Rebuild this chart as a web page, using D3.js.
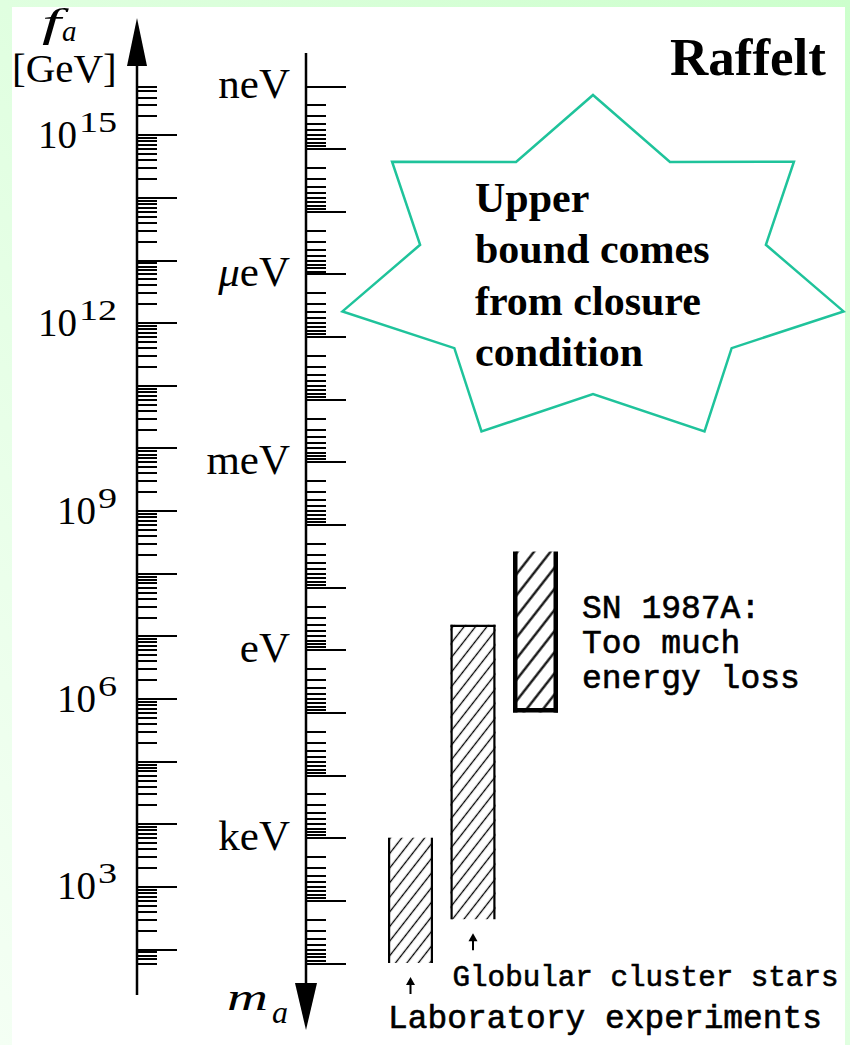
<!DOCTYPE html>
<html>
<head>
<meta charset="utf-8">
<script src="https://cdn.jsdelivr.net/npm/d3@7"></script>
<style>
html, body { margin: 0; padding: 0; background: #fff; }
svg { display: block; }
</style>
</head>
<body>
<div id="chart"></div>
<script>
// ---- data ----
const massDomain = [1e-9, 1e5];                 // m_a in eV, top -> bottom
const massDecadeLabels = [1e-9, 1e-6, 1e-3, 1, 1e3];
const massPrefixes = ['n', 'μ', 'm', '', 'k'];
const FA_TIMES_MA = 6e6;                        // f_a [GeV] * m_a [eV]
const faExponents = [15, 12, 9, 6, 3];

const boundNames = ['Laboratory experiments', 'Globular cluster stars', 'SN 1987A'];
const boundLow = [1e3, 0.4, 0.027];             // eV
const boundHigh = [1e5, 2e4, 10];               // eV
const snLines = ['SN 1987A:', 'Too much', 'energy loss'];
const starLines = ['Upper', 'bound comes', 'from closure', 'condition'];

// ---- layout ----
const WIDTH = 850, HEIGHT = 1045;
const AXIS_TOP = 86, AXIS_BOTTOM = 963;
const FA_X = 137, MA_X = 306;
const MINOR = 20, MAJOR = 40;
const SERIF = '"Liberation Serif", "Times New Roman", serif';
const MONO = '"Liberation Mono", "Courier New", monospace';

const svg = d3.select('#chart').append('svg')
	.attr('width', WIDTH)
	.attr('height', HEIGHT);
const defs = svg.append('defs');

// background: green frame + white sheet
const grad = defs.append('linearGradient').attr('id', 'bg')
	.attr('x1', 1).attr('y1', 0).attr('x2', 0).attr('y2', 1);
grad.append('stop').attr('offset', 0).attr('stop-color', '#ccffcc');
grad.append('stop').attr('offset', 1).attr('stop-color', '#f4fff4');
svg.append('rect').attr('width', WIDTH).attr('height', HEIGHT).attr('fill', 'url(#bg)');
svg.append('rect').attr('x', 12).attr('y', 7).attr('width', 833).attr('height', HEIGHT - 7).attr('fill', '#fff');

// scales: one shared log axis, f_a derived from m_a
const y = d3.scaleLog().domain(massDomain).range([AXIS_TOP, AXIS_BOTTOM]);
const yF = d3.scaleLog().domain(massDomain.map(m => FA_TIMES_MA / m)).range([AXIS_TOP, AXIS_BOTTOM]);

const isDecade = v => Math.abs(Math.log10(v) - Math.round(Math.log10(v))) < 1e-6;

function drawLogAxis(scale, x) {
	const g = svg.append('g')
		.attr('transform', `translate(${x},0)`)
		.call(d3.axisRight(scale).tickValues(scale.ticks(40)).tickSize(MINOR).tickSizeOuter(0).tickFormat(''));
	g.select('.domain').remove();
	g.selectAll('.tick line')
		.attr('stroke', '#000')
		.attr('stroke-width', 2)
		.attr('shape-rendering', 'crispEdges')
		.attr('x2', d => isDecade(d) ? MAJOR : MINOR);
	return g;
}

drawLogAxis(yF, FA_X);
drawLogAxis(y, MA_X);

// axis lines with arrows
svg.append('line').attr('x1', FA_X).attr('x2', FA_X).attr('y1', 60).attr('y2', 995)
	.attr('stroke', '#000').attr('stroke-width', 2.5);
svg.append('path').attr('d', `M${FA_X},18 L${FA_X - 10},66 L${FA_X + 10},66 Z`).attr('fill', '#000');
svg.append('line').attr('x1', MA_X).attr('x2', MA_X).attr('y1', 53).attr('y2', 990)
	.attr('stroke', '#000').attr('stroke-width', 2.5);
svg.append('path').attr('d', `M${MA_X - 11},983 L${MA_X + 11},983 L${MA_X},1030 Z`).attr('fill', '#000');

// f_a decade labels (10^n, right aligned); superscripts drawn a little wide as in TeX
const faLab = svg.append('g').attr('font-family', SERIF);
faExponents.forEach(e => {
	const ty = yF(Math.pow(10, e));
	const expW = String(e).length * 19;
	faLab.append('text')
		.attr('transform', `translate(117,${ty - 3}) scale(1.27,1)`)
		.attr('text-anchor', 'end')
		.attr('font-size', 30)
		.text(e);
	faLab.append('text')
		.attr('x', 117 - expW - 2).attr('y', ty + 13)
		.attr('text-anchor', 'end')
		.attr('font-size', 39)
		.text('10');
});

// m_a decade labels
const maLab = svg.append('g').attr('font-family', SERIF).attr('text-anchor', 'end').attr('font-size', 43);
massDecadeLabels.forEach((m, i) => {
	const t = maLab.append('text').attr('x', 290).attr('y', y(m) + 12);
	if (massPrefixes[i] === 'μ') {
		t.append('tspan').attr('font-style', 'italic').text('μ');
	} else {
		t.append('tspan').text(massPrefixes[i]);
	}
	t.append('tspan').text('eV');
});

// axis titles
svg.append('text').attr('x', 42).attr('y', 36).attr('font-family', SERIF).attr('font-style', 'italic')
	.attr('font-size', 40).attr('textLength', 19).attr('lengthAdjust', 'spacingAndGlyphs').text('f');
svg.append('text').attr('x', 62).attr('y', 41).attr('font-family', SERIF).attr('font-style', 'italic')
	.attr('font-size', 29).text('a');
svg.append('text').attr('x', 12).attr('y', 82).attr('font-family', SERIF).attr('font-size', 41).text('[GeV]');
svg.append('text').attr('x', 227).attr('y', 1010).attr('font-family', SERIF).attr('font-style', 'italic')
	.attr('font-size', 38).attr('textLength', 41).attr('lengthAdjust', 'spacingAndGlyphs').text('m');
svg.append('text').attr('x', 272).attr('y', 1023).attr('font-family', SERIF).attr('font-style', 'italic')
	.attr('font-size', 32).text('a');

// hatched exclusion bars
function hatch(id, gap, width) {
	defs.append('pattern').attr('id', id)
		.attr('patternUnits', 'userSpaceOnUse')
		.attr('width', gap).attr('height', gap)
		.attr('patternTransform', 'rotate(38)')
		.append('line')
		.attr('x1', gap / 2).attr('x2', gap / 2).attr('y1', -1).attr('y2', gap + 1)
		.attr('stroke', '#000').attr('stroke-width', width);
}
hatch('hatchThin', 9, 1.3);
hatch('hatchBold', 13, 2.2);

const barStyle = [
	{ sides: ['left', 'right'], stroke: 2.2, fill: 'url(#hatchThin)' },
	{ sides: ['top', 'left', 'right'], stroke: 2.2, fill: 'url(#hatchThin)' },
	{ sides: ['left', 'right', 'bottom'], stroke: 4.5, fill: 'url(#hatchBold)' }
];

const xb = d3.scaleBand().domain(boundNames).range([388, 558]).paddingInner(0.28);

boundNames.forEach((name, i) => {
	const x0 = xb(name), x1 = x0 + xb.bandwidth();
	const y0 = y(boundLow[i]), y1 = y(boundHigh[i]);
	const st = barStyle[i], h = st.stroke / 2;
	svg.append('rect').attr('x', x0).attr('y', y0).attr('width', x1 - x0).attr('height', y1 - y0)
		.attr('fill', st.fill);
	const seg = {
		left: [[x0 + h, y0], [x0 + h, y1]],
		right: [[x1 - h, y0], [x1 - h, y1]],
		top: [[x0, y0 + h], [x1, y0 + h]],
		bottom: [[x0, y1 - h], [x1, y1 - h]]
	};
	st.sides.forEach(s => {
		svg.append('line')
			.attr('x1', seg[s][0][0]).attr('y1', seg[s][0][1])
			.attr('x2', seg[s][1][0]).attr('y2', seg[s][1][1])
			.attr('stroke', '#000').attr('stroke-width', st.stroke);
	});
});

// small arrows under the two lower bars
[0, 1].forEach(i => {
	const cx = xb(boundNames[i]) + xb.bandwidth() / 2;
	const top = y(boundHigh[i]) + 14;
	svg.append('line').attr('x1', cx).attr('x2', cx).attr('y1', top + 4).attr('y2', top + 17)
		.attr('stroke', '#000').attr('stroke-width', 2);
	svg.append('path').attr('d', `M${cx},${top} L${cx - 4.5},${top + 8} L${cx + 4.5},${top + 8} Z`).attr('fill', '#000');
});

// bar labels
const mono = svg.append('g').attr('font-family', MONO).attr('font-size', 33)
	.attr('fill', '#000').attr('stroke', '#000').attr('stroke-width', 0.6);
const snX = xb(boundNames[2]) + xb.bandwidth() + 24;
snLines.forEach((s, i) => {
	mono.append('text').attr('x', snX).attr('y', 618 + i * 35).attr('xml:space', 'preserve').text(s);
});
mono.append('text').attr('x', xb(boundNames[1]) + 2).attr('y', 986)
	.attr('font-size', 30)
	.attr('textLength', 386).attr('lengthAdjust', 'spacingAndGlyphs').text(boundNames[1]);
mono.append('text').attr('x', xb(boundNames[0])).attr('y', 1028)
	.attr('textLength', 434).attr('lengthAdjust', 'spacingAndGlyphs').text(boundNames[0]);

// seven-pointed star callout
const STAR = { cx: 593, cy: 272, rx: 257, ry: 177, inner: 0.69, n: 7 };
const starPts = d3.range(STAR.n * 2).map(k => {
	const a = -Math.PI / 2 + k * Math.PI / STAR.n;
	const f = k % 2 ? STAR.inner : 1;
	return [STAR.cx + STAR.rx * f * Math.cos(a), STAR.cy + STAR.ry * f * Math.sin(a)];
});
svg.append('polygon')
	.attr('points', starPts.map(p => p.join(',')).join(' '))
	.attr('fill', '#fff')
	.attr('stroke', '#1fc39b')
	.attr('stroke-width', 2.5)
	.attr('stroke-linejoin', 'miter');

const starG = svg.append('g').attr('font-family', SERIF).attr('font-weight', 'bold').attr('font-size', 42);
starLines.forEach((s, i) => {
	starG.append('text').attr('x', 475).attr('y', 212 + i * 51.3).text(s);
});

svg.append('text').attr('x', 826).attr('y', 75).attr('text-anchor', 'end')
	.attr('font-family', SERIF).attr('font-weight', 'bold').attr('font-size', 53).text('Raffelt');
</script>
</body>
</html>
